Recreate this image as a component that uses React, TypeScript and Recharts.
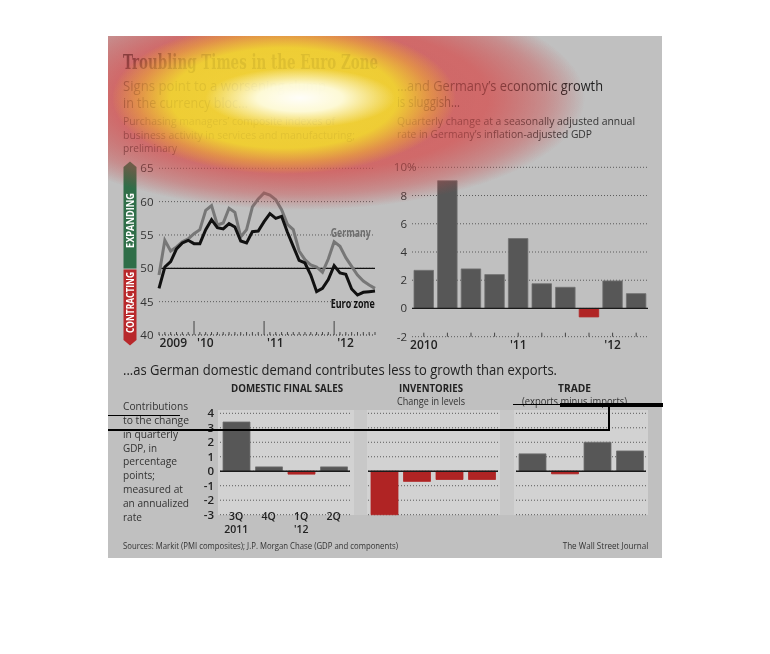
import React from 'react';
import { LineChart, Line, BarChart, Bar, Cell, XAxis, YAxis, CartesianGrid, ReferenceLine } from 'recharts';

// PMI composites, monthly
const PMI_MONTHS = [
  'Jul 09', 'Aug 09', 'Sep 09', 'Oct 09', 'Nov 09', 'Dec 09',
  'Jan 10', 'Feb 10', 'Mar 10', 'Apr 10', 'May 10', 'Jun 10', 'Jul 10', 'Aug 10', 'Sep 10', 'Oct 10', 'Nov 10', 'Dec 10',
  'Jan 11', 'Feb 11', 'Mar 11', 'Apr 11', 'May 11', 'Jun 11', 'Jul 11', 'Aug 11', 'Sep 11', 'Oct 11', 'Nov 11', 'Dec 11',
  'Jan 12', 'Feb 12', 'Mar 12', 'Apr 12', 'May 12', 'Jun 12', 'Jul 12', 'Aug 12',
];
const EURO_ZONE_PMI = [
  47, 50.2, 51, 52.9, 53.8, 54.2,
  53.7, 53.7, 55.8, 57.3, 56.1, 55.9, 56.7, 56.2, 54.1, 53.8, 55.5, 55.6,
  57, 58.2, 57.5, 57.8, 55.4, 53.3, 51.2, 50.8, 49, 46.5, 47, 48.3,
  50.4, 49.3, 49.1, 46.9, 46, 46.4, 46.5, 46.6,
];
const GERMANY_PMI = [
  49, 54.2, 52.6, 53.2, 54, 54.4,
  55.2, 55.8, 58.7, 59.4, 56.5, 56.8, 59, 58.4, 54.7, 55.8, 59.2, 60.4,
  61.3, 61, 60.3, 58.8, 56.6, 55.8, 52.6, 51.3, 50.5, 50.2, 49.4, 51.4,
  54, 53.3, 51.6, 50.3, 49, 48.1, 47.5, 47,
];
const PMI_Y_TICKS = [40, 45, 50, 55, 60, 65];
const PMI_YEAR_LABELS: Record<string, string> = { 'Jan 10': "'10", 'Jan 11': "'11", 'Jan 12': "'12" };

// German GDP, quarterly change, annualized
const GDP_QUARTERS = ['1Q 10', '2Q 10', '3Q 10', '4Q 10', '1Q 11', '2Q 11', '3Q 11', '4Q 11', '1Q 12', '2Q 12'];
const GDP_GROWTH = [2.7, 9.05, 2.8, 2.4, 4.95, 1.75, 1.5, -0.6, 1.95, 1.05];
const GDP_Y_TICKS = [-2, 0, 2, 4, 6, 8, 10];
const GDP_YEAR_LABELS: Record<string, string> = { '1Q 10': '2010', '1Q 11': "'11", '1Q 12': "'12" };

// Contributions to GDP change
const CONTRIB_QUARTERS = ['3Q 11', '4Q 11', '1Q 12', '2Q 12'];
const CONTRIB_QUARTER_LABELS = ['3Q', '4Q', '1Q', '2Q'];
const CONTRIB_YEAR_LABELS = ['2011', '', "'12", ''];
const DOMESTIC_FINAL_SALES = [3.4, 0.3, -0.2, 0.3];
const INVENTORIES = [-3.0, -0.7, -0.57, -0.57];
const TRADE = [1.2, -0.18, 2.0, 1.4];
const CONTRIB_Y_TICKS = [-3, -2, -1, 0, 1, 2, 3, 4];

const pmiData = PMI_MONTHS.map((month, i) => ({ month, euro: EURO_ZONE_PMI[i], germany: GERMANY_PMI[i] }));
const gdpData = GDP_QUARTERS.map((q, i) => ({ q, value: GDP_GROWTH[i] }));
const contrib = (values: number[]) =>
  CONTRIB_QUARTERS.map((q, i) => ({ q, idx: i, value: values[i] }));

const SANS = '"Open Sans", "Noto Sans", sans-serif';
const GRID = '#5a5a5a';
const BAR_GRAY = '#575757';
const BAR_RED = '#b02424';

const PmiYTick = ({ y, payload }: any) => (
  <text x={45.5} y={y} dy={4} textAnchor="end" fontSize={11.5} fill="#333">
    {payload.value}
  </text>
);

const PmiXTick = ({ x, y, payload }: any) => {
  const label = PMI_YEAR_LABELS[payload.value];
  return (
    <g>
      <line x1={x} x2={x} y1={y} y2={y - (label ? 14 : 3)} stroke="#444" strokeWidth={1} />
      {label && (
        <text x={x + 3} y={y + 12} fontSize={12} fontWeight={600} fill="#222">
          {label}
        </text>
      )}
      {payload.value === 'Jan 10' && (
        <text x={x - 7} y={y + 12} textAnchor="end" fontSize={12} fontWeight={600} fill="#222">
          2009
        </text>
      )}
    </g>
  );
};

const GdpYTick = ({ y, payload }: any) => (
  <g>
    <text x={17} y={y} dy={4} textAnchor="end" fontSize={11.5} fill="#333">
      {payload.value}
    </text>
    {payload.value === 10 && (
      <text x={17} y={y} dy={4} fontSize={11.5} fill="#333">
        %
      </text>
    )}
  </g>
);

const GdpXTick = ({ x, y, payload }: any) => {
  const label = GDP_YEAR_LABELS[payload.value];
  return (
    <g>
      <line x1={x} x2={x} y1={y} y2={y - 4} stroke="#444" strokeWidth={1} />
      {label && (
        <text x={x} y={y + 12.5} textAnchor="middle" fontSize={12} fontWeight={600} fill="#222">
          {label}
        </text>
      )}
    </g>
  );
};

const ContribYTick = ({ y, payload }: any) => (
  <text x={24} y={y} dy={4} textAnchor="end" fontSize={11.5} fontWeight={600} fill="#222">
    {payload.value}
  </text>
);

const ContribXTick = ({ x, y, payload }: any) => {
  const i = CONTRIB_QUARTERS.indexOf(payload.value);
  return (
    <g>
      <text x={x} y={y + 5} textAnchor="middle" fontSize={10.5} fontWeight={600} fill="#222">
        {CONTRIB_QUARTER_LABELS[i]}
      </text>
      <text x={x} y={y + 18} textAnchor="middle" fontSize={10.5} fontWeight={600} fill="#222">
        {CONTRIB_YEAR_LABELS[i]}
      </text>
    </g>
  );
};

function ContribChart({ values, left, showAxis }: { values: number[]; left: number; showAxis?: boolean }) {
  const data = contrib(values);
  const yw = showAxis ? 30 : 0;
  return (
    <div style={{ position: 'absolute', left: left - yw, top: 400 }}>
      <BarChart width={130 + yw} height={140} data={data} margin={{ top: 13.3, right: 0, bottom: 0, left: 0 }}>
        <CartesianGrid vertical={false} stroke={GRID} strokeDasharray="1 2" />
        <XAxis
          dataKey="q"
          height={25.3}
          interval={0}
          axisLine={false}
          tickLine={false}
          tickSize={0}
          tickMargin={0}
          tick={showAxis ? ContribXTick : false}
        />
        <YAxis
          hide={!showAxis}
          width={yw}
          domain={[-3, 4]}
          ticks={CONTRIB_Y_TICKS}
          interval={0}
          axisLine={false}
          tickLine={false}
          tick={ContribYTick}
        />
        <Bar dataKey="value" barSize={27} isAnimationActive={false}>
          {data.map((d) => (
            <Cell key={d.q} fill={d.value < 0 ? BAR_RED : BAR_GRAY} stroke={d.value < 0 ? BAR_RED : '#707070'} strokeWidth={0.8} />
          ))}
        </Bar>
        <ReferenceLine y={0} stroke="#1a1a1a" strokeWidth={1.3} />
      </BarChart>
    </div>
  );
}

type TProps = {
  x: number; y: number; s: number; len?: number; w?: number; c?: string;
  anchor?: 'start' | 'middle' | 'end'; family?: string; children: React.ReactNode;
};
const T = ({ x, y, s, len, w = 400, c = '#333', anchor = 'start', family = SANS, children }: TProps) => (
  <text
    x={x}
    y={y}
    fontSize={s}
    fontWeight={w}
    fill={c}
    textAnchor={anchor}
    fontFamily={family}
    textLength={len}
    lengthAdjust={len ? 'spacingAndGlyphs' : undefined}
  >
    {children}
  </text>
);

const NOTE_LINES = ['Contributions', 'to the change', 'in quarterly', 'GDP, in', 'percentage', 'points;', 'measured at', 'an annualized', 'rate'];
const NOTE_WIDTHS = [65, 66, 55, 34, 54, 32, 60, 66, 19];

// heat blob, drawn twice: multiplied (tints text) and laid over (brightens)
const heat = (ky: number, kr: number) =>
  [
    `radial-gradient(172px 76px at 176px 62px, rgba(255,255,50,${0.95 * ky}) 0%, rgba(252,248,40,${0.93 * ky}) 66%, rgba(250,200,50,${0.55 * ky}) 85%, rgba(245,170,60,0) 100%)`,
    `radial-gradient(285px 112px at 192px 62px, rgba(225,85,85,${0.9 * kr}) 0%, rgba(225,88,88,${0.85 * kr}) 66%, rgba(225,96,96,${0.45 * kr}) 86%, rgba(225,100,100,0) 100%)`,
  ];

const overlayBox: React.CSSProperties = {
  position: 'absolute',
  left: 108,
  top: 36,
  width: 554,
  height: 522,
  pointerEvents: 'none',
};

export default function App() {
  return (
    <div style={{ position: 'absolute', left: 0, top: 0, width: 770, height: 654, background: '#fff', overflow: 'hidden', fontFamily: SANS, isolation: 'isolate' }}>
      <div style={{ position: 'absolute', left: 108, top: 36, width: 554, height: 522, background: '#c0c0c0' }} />

      {/* bottom panels */}
      <div style={{ position: 'absolute', left: 218, top: 410, width: 430, height: 105, background: '#c8c8c8' }} />
      <div style={{ position: 'absolute', left: 218, top: 410, width: 136, height: 105, background: '#d2d2d2' }} />
      <div style={{ position: 'absolute', left: 367, top: 410, width: 133, height: 105, background: '#d2d2d2' }} />
      <div style={{ position: 'absolute', left: 514, top: 410, width: 134, height: 105, background: '#d2d2d2' }} />

      {/* PMI lines */}
      <div style={{ position: 'absolute', left: 108, top: 150 }}>
        <LineChart width={280} height={210} data={pmiData} margin={{ top: 18.3, right: 13, bottom: 0, left: 0 }}>
          <CartesianGrid vertical={false} stroke={GRID} strokeDasharray="1 2" />
          <XAxis
            dataKey="month"
            height={25}
            interval={0}
            axisLine={{ stroke: '#555', strokeDasharray: '1 2' }}
            tickLine={false}
            tickSize={0}
            tickMargin={0}
            tick={PmiXTick}
          />
          <YAxis width={51} domain={[40, 65]} ticks={PMI_Y_TICKS} interval={0} axisLine={false} tickLine={false} tick={PmiYTick} />
          <ReferenceLine y={50} stroke="#111" strokeWidth={1.2} />
          <Line dataKey="germany" stroke="#777" strokeWidth={3} dot={false} isAnimationActive={false} strokeLinejoin="miter" />
          <Line dataKey="euro" stroke="#111" strokeWidth={3} dot={false} isAnimationActive={false} strokeLinejoin="miter" />
        </LineChart>
      </div>

      {/* GDP bars */}
      <div style={{ position: 'absolute', left: 390, top: 150 }}>
        <BarChart width={275} height={210} data={gdpData} margin={{ top: 17.3, right: 17, bottom: 0, left: 0 }}>
          <CartesianGrid vertical={false} stroke={GRID} strokeDasharray="1 2" />
          <XAxis
            dataKey="q"
            height={23.3}
            interval={0}
            axisLine={false}
            tickLine={false}
            tickSize={0}
            tickMargin={0}
            tick={GdpXTick}
          />
          <YAxis width={22} domain={[-2, 10]} ticks={GDP_Y_TICKS} interval={0} axisLine={false} tickLine={false} tick={GdpYTick} />
          <Bar dataKey="value" barSize={19.5} isAnimationActive={false}>
            {gdpData.map((d) => (
              <Cell key={d.q} fill={d.value < 0 ? BAR_RED : BAR_GRAY} stroke={d.value < 0 ? BAR_RED : '#707070'} strokeWidth={0.8} />
            ))}
          </Bar>
          <ReferenceLine y={0} stroke="#1a1a1a" strokeWidth={1.3} />
        </BarChart>
      </div>

      {/* contributions */}
      <ContribChart values={DOMESTIC_FINAL_SALES} left={220} showAxis />
      <ContribChart values={INVENTORIES} left={368} />
      <ContribChart values={TRADE} left={516} />

      {/* text */}
      <svg width={770} height={654} style={{ position: 'absolute', left: 0, top: 0 }}>
        <T x={123} y={69} s={19.5} w={700} c="#2a2a2a" len={255} family='"DejaVu Serif", serif'>
          Troubling Times in the Euro Zone
        </T>
        <T x={123} y={91} s={14.5} c="#333" len={203}>Signs point to a worsening slump</T>
        <T x={123} y={107.5} s={14.5} c="#333" len={125}>in the currency bloc...</T>
        <T x={123} y={125} s={11} c="#444" len={212}>Purchasing managers’ composite indexes of</T>
        <T x={123} y={138.5} s={11} c="#444" len={232}>business activity in services and manufacturing;</T>
        <T x={123} y={152} s={11} c="#444" len={54}>preliminary</T>

        <T x={397} y={90.5} s={14.5} c="#222" len={206}>...and Germany’s economic growth</T>
        <T x={397} y={107} s={14.5} c="#222" len={63}>is sluggish...</T>
        <T x={397} y={124.5} s={11} c="#333" len={238}>Quarterly change at a seasonally adjusted annual</T>
        <T x={397} y={138} s={11} c="#333" len={195}>rate in Germany’s inflation-adjusted GDP</T>

        {/* expanding / contracting bar */}
        <polygon points="123.5,167 130,161.5 136.5,167 136.5,268.5 123.5,268.5" fill="#2f6e48" />
        <polygon points="123.5,269.5 136.5,269.5 136.5,340 130,345.5 123.5,340" fill="#b8282b" />
        <text transform="translate(134,220.5) rotate(-90)" textAnchor="middle" fontSize={10.5} fontWeight={700} fill="#fff" textLength={55} lengthAdjust="spacingAndGlyphs">
          EXPANDING
        </text>
        <text transform="translate(134,302.5) rotate(-90)" textAnchor="middle" fontSize={10.5} fontWeight={700} fill="#fff" textLength={61} lengthAdjust="spacingAndGlyphs">
          CONTRACTING
        </text>

        <T x={330.7} y={237.3} s={12} w={700} c="#6e6e6e" len={40}>Germany</T>
        <T x={330.7} y={308.3} s={12} w={700} c="#111" len={44}>Euro zone</T>

        <T x={123} y={374.5} s={15} c="#222" len={434}>
          ...as German domestic demand contributes less to growth than exports.
        </T>
        <T x={287} y={392} s={10.5} w={700} c="#222" anchor="middle" len={112}>DOMESTIC FINAL SALES</T>
        <T x={431} y={392} s={10.5} w={700} c="#222" anchor="middle" len={64}>INVENTORIES</T>
        <T x={431} y={405} s={10.5} c="#333" anchor="middle" len={68}>Change in levels</T>
        <T x={574.5} y={392} s={10.5} w={700} c="#222" anchor="middle" len={33}>TRADE</T>
        <T x={574.5} y={405} s={10.5} c="#333" anchor="middle" len={105}>(exports minus imports)</T>

        {NOTE_LINES.map((line, i) => (
          <T key={line} x={123} y={410 + i * 13.85} s={11} c="#333" len={NOTE_WIDTHS[i]}>
            {line}
          </T>
        ))}

        <T x={123} y={548.5} s={9.5} c="#333" len={275}>
          Sources: Markit (PMI composites); J.P. Morgan Chase (GDP and components)
        </T>
        <T x={562.7} y={548.5} s={9.5} c="#333" len={85.6}>The Wall Street Journal</T>
      </svg>

      {/* attention heat overlay */}
      <div style={{ ...overlayBox, mixBlendMode: 'multiply', background: heat(0.7, 0.55).join(',') }} />
      <div
        style={{
          ...overlayBox,
          background: [
            'radial-gradient(95px 30px at 192px 62px, rgba(255,255,255,0.97) 0%, rgba(255,255,235,0.88) 45%, rgba(255,255,180,0) 100%)',
            ...heat(0.72, 0.72),
          ].join(','),
        }}
      />

      {/* gaze trace */}
      <div style={{ position: 'absolute', left: 108, top: 414.5, width: 72, height: 1.5, background: '#000' }} />
      <div style={{ position: 'absolute', left: 108, top: 429, width: 501, height: 2, background: '#000' }} />
      <div style={{ position: 'absolute', left: 607.5, top: 405, width: 2, height: 26, background: '#000' }} />
      <div style={{ position: 'absolute', left: 513, top: 403.5, width: 50, height: 1.5, background: '#000' }} />
      <div style={{ position: 'absolute', left: 560, top: 403, width: 103, height: 4, background: '#000' }} />
    </div>
  );
}
